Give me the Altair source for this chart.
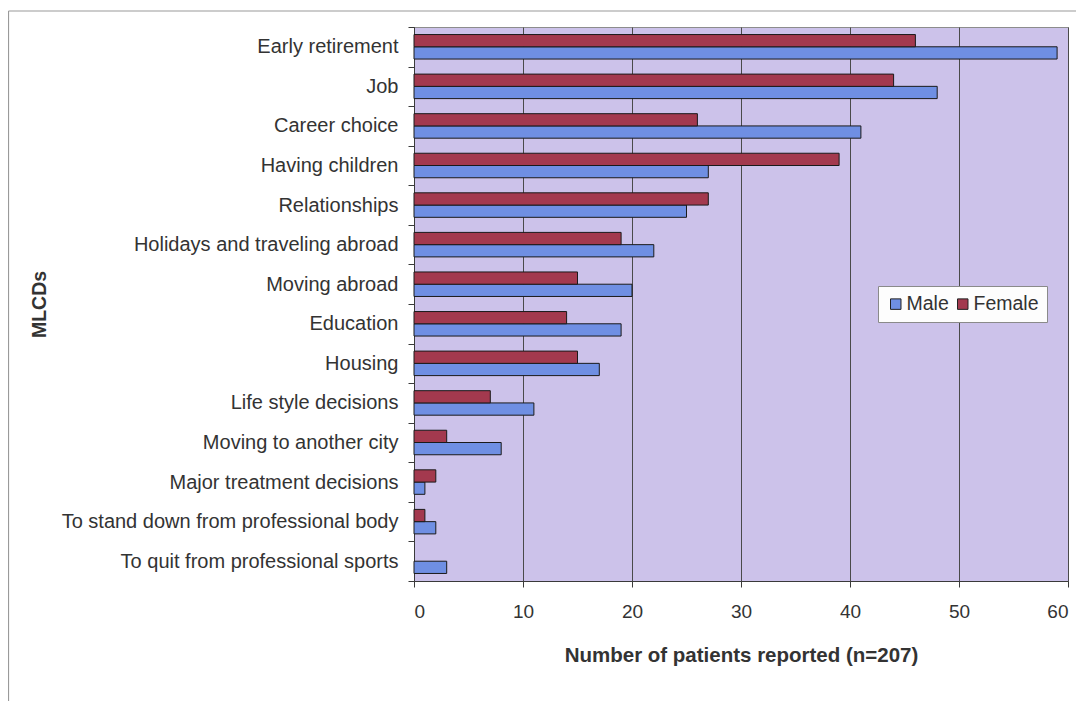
import altair as alt
import pandas as pd

categories = [
    "Early retirement", "Job", "Career choice", "Having children",
    "Relationships", "Holidays and traveling abroad", "Moving abroad",
    "Education", "Housing", "Life style decisions", "Moving to another city",
    "Major treatment decisions", "To stand down from professional body",
    "To quit from professional sports",
]
male = [59, 48, 41, 27, 25, 22, 20, 19, 17, 11, 8, 1, 2, 3]
female = [46, 44, 26, 39, 27, 19, 15, 14, 15, 7, 3, 2, 1, 0]
series = ["Male", "Female"]
colors = ["#6F8FE3", "#A3394E"]

rows = []
for c, m, f in zip(categories, male, female):
    rows.append({"category": c, "sex": "Male", "count": m})
    rows.append({"category": c, "sex": "Female", "count": f})
df = pd.DataFrame(rows)

FONT = "Liberation Sans"
TXT = "#333333"

bars = alt.Chart(df).mark_bar(stroke="#1a1a1a", strokeWidth=1).encode(
    y=alt.Y(
        "category:N",
        sort=categories,
        scale=alt.Scale(domain=categories, paddingInner=0, paddingOuter=0),
        axis=alt.Axis(
            title="MLCDs",
            titleFont=FONT, titleFontSize=19.5, titleFontWeight="bold",
            titleColor=TXT, titleX=-375, titleBaseline="middle",
            labelFont=FONT, labelFontSize=20, labelColor=TXT, labelLimit=0,
            labelPadding=10, tickSize=6, tickBand="extent",
            tickColor="#3a3a3a", domainColor="#3a3a3a", grid=False,
        ),
    ),
    yOffset=alt.YOffset("sex:N", sort=["Female", "Male"],
                        scale=alt.Scale(domain=["Female", "Male"],
                                        paddingInner=0, paddingOuter=0.615)),
    x=alt.X(
        "count:Q",
        scale=alt.Scale(domain=[0, 60], nice=False),
        axis=alt.Axis(
            title="Number of patients reported (n=207)",
            values=[0, 10, 20, 30, 40, 50, 60],
            titleFont=FONT, titleFontSize=20.5, titleFontWeight="bold",
            titleColor=TXT, titlePadding=24,
            labelFont=FONT, labelFontSize=19, labelColor=TXT,
            labelPadding=15, tickSize=6, tickColor="#3a3a3a",
            domainColor="#3a3a3a", grid=True, gridColor="#4a4a4a",
            gridWidth=1,
        ),
    ),
    color=alt.Color(
        "sex:N",
        scale=alt.Scale(domain=series, range=colors),
        legend=alt.Legend(
            title=None, orient="none", legendX=464, legendY=259,
            direction="horizontal", columns=2,
            fillColor="#FDFDFD", strokeColor="#8a8a8a", padding=8,
            symbolType="square", symbolSize=110, symbolStrokeColor="#222222",
            symbolStrokeWidth=1, labelFont=FONT, labelFontSize=19.5,
            labelColor=TXT, columnPadding=4, labelOffset=1,
        ),
    ),
).transform_filter("datum.count > 0")

frame = alt.Chart(alt.Data(values=[{}])).mark_rule(color="#9a9a9a", strokeWidth=1.2).encode(
    x=alt.value(-405.5), x2=alt.value(-405.5), y=alt.value(-16), y2=alt.value(700)
)
frame_top = alt.Chart(alt.Data(values=[{}])).mark_rule(color="#9a9a9a", strokeWidth=1.2).encode(
    x=alt.value(-405.5), x2=alt.value(700), y=alt.value(-16), y2=alt.value(-16)
)

chart = alt.layer(frame, frame_top, bars).properties(
    width=654, height=554,
    autosize=alt.AutoSizeParams(type="none"),
    padding={"left": 406, "top": 19, "right": 8, "bottom": 120},
    background="#FFFFFF",
).configure_view(
    fill="#CCC2EA", stroke="#8c8c8c", strokeWidth=1
)

chart.save("out.html", embed_options={"renderer": "svg", "actions": False})
